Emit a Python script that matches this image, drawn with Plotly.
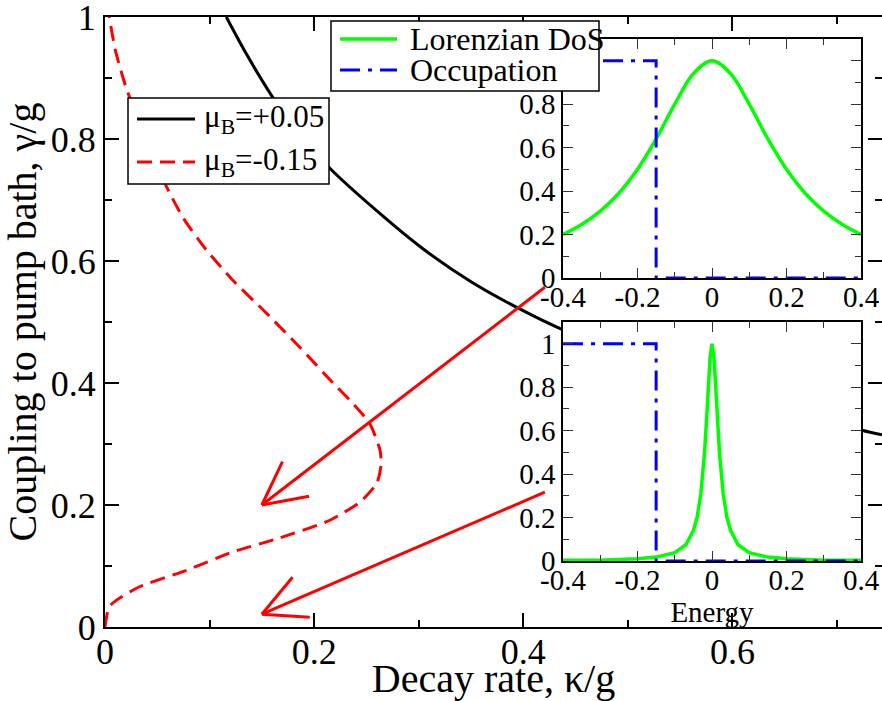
import math
import plotly.graph_objects as go

# ---------------- data ----------------
# main panel: mu_B = +0.05 (black solid)
kappa_plus = [0.116, 0.135, 0.159, 0.185, 0.215, 0.26, 0.304, 0.35, 0.397, 0.438, 0.5, 0.6, 0.723, 0.743]
gamma_plus = [1.0, 0.94, 0.872, 0.81, 0.752, 0.682, 0.62, 0.566, 0.521, 0.487, 0.445, 0.39, 0.323, 0.315]

# main panel: mu_B = -0.15 (red dashed)
kappa_minus = [0.0, 0.001, 0.004, 0.011, 0.033, 0.078, 0.122, 0.167, 0.215, 0.244, 0.26, 0.264,
               0.263, 0.253, 0.234, 0.218, 0.186, 0.154, 0.122, 0.097, 0.075, 0.059, 0.044,
               0.03, 0.02, 0.01, 0.004]
gamma_minus = [0.0, 0.012, 0.033, 0.044, 0.066, 0.093, 0.123, 0.146, 0.175, 0.205, 0.236, 0.266,
               0.29, 0.334, 0.372, 0.4, 0.459, 0.515, 0.569, 0.618, 0.67, 0.721, 0.78,
               0.84, 0.885, 0.945, 1.0]

# insets: Lorentzian density of states
energy_wide = [-0.4, -0.35, -0.3, -0.25, -0.2, -0.15, -0.1, -0.05, 0.0, 0.05, 0.1, 0.15, 0.2, 0.25, 0.3, 0.35, 0.4]
dos_wide = [0.2, 0.246, 0.308, 0.39, 0.5, 0.64, 0.8, 0.94, 1.0, 0.94, 0.8, 0.64, 0.5, 0.39, 0.308, 0.246, 0.2]

energy_narrow = [-0.4, -0.3, -0.2, -0.15, -0.1, -0.07, -0.05, -0.04, -0.03, -0.02, -0.015, -0.01, -0.005, 0.0,
                 0.005, 0.01, 0.015, 0.02, 0.03, 0.04, 0.05, 0.07, 0.1, 0.15, 0.2, 0.3, 0.4]
dos_narrow = [0.003, 0.004, 0.01, 0.018, 0.038, 0.075, 0.14, 0.2, 0.31, 0.5, 0.64, 0.8, 0.94, 1.0,
              0.94, 0.8, 0.64, 0.5, 0.31, 0.2, 0.14, 0.075, 0.038, 0.018, 0.01, 0.004, 0.003]

# insets: occupation (step at mu_B = -0.15)
occ_energy = [-0.4, -0.15, -0.15, 0.4]
occ_value = [1.0, 1.0, 0.0, 0.0]

# arrows (main-panel data coordinates)
arrow_tail_x = [0.4206, 0.4206]
arrow_tail_y = [0.557, 0.221]
arrow_tip_x = [0.15, 0.15]
arrow_tip_y = [0.2, 0.021]

# legend texts
main_names = ["μ<sub>B</sub>=+0.05", "μ<sub>B</sub>=-0.15"]
inset_names = ["Lorenzian DoS", "Occupation"]

# tick labels
main_x_ticks = [0, 0.2, 0.4, 0.6]
main_x_labels = ["0", "0.2", "0.4", "0.6"]
main_y_ticks = [0, 0.2, 0.4, 0.6, 0.8, 1.0]
main_y_labels = ["0", "0.2", "0.4", "0.6", "0.8", "1"]
inset_x_ticks = [-0.4, -0.2, 0, 0.2, 0.4]
inset_x_labels = ["-0.4", "-0.2", "0", "0.2", "0.4"]
inset_y_ticks = [0, 0.2, 0.4, 0.6, 0.8, 1.0]
inset_y_labels = ["0", "0.2", "0.4", "0.6", "0.8", "1"]

# ---------------- layout geometry ----------------
W, H = 882, 701
ML, MR, MT, MB = 105, 0, 17, 74
X_RANGE = [0, 0.743]
Y_RANGE = [0, 1.0]
INSET_X_RANGE = [-0.4, 0.4]
INSET_Y_RANGE = [0, 1.1]
FONT = "Liberation Serif"
GREEN = "#00ff00"
BLUE = "#0000ff"
DASHDOT = "20px,8px,4px,8px"
REDDASH = "15px,8px"

plot_w = W - ML - MR
plot_h = H - MT - MB
px_per_x = plot_w / (X_RANGE[1] - X_RANGE[0])
px_per_y = plot_h / (Y_RANGE[1] - Y_RANGE[0])


def paper_x(px):
    return (px - ML) / plot_w


def paper_y(py):
    return (H - MB - py) / plot_h


fig = go.Figure()

# main curves
fig.add_trace(go.Scatter(x=kappa_plus, y=gamma_plus, mode="lines", name=main_names[0],
                         line=dict(color="black", width=3, shape="spline", smoothing=0.8),
                         xaxis="x", yaxis="y", showlegend=False))
fig.add_trace(go.Scatter(x=kappa_minus, y=gamma_minus, mode="lines", name=main_names[1],
                         line=dict(color="red", width=3, dash=REDDASH, shape="spline", smoothing=0.6),
                         xaxis="x", yaxis="y", showlegend=False))

# arrows: shaft + open V head computed in pixel space
HEAD_LEN = 48.0
HEAD_ANG = math.radians(27)
ax_list, ay_list = [], []
for tx, ty, hx, hy in zip(arrow_tail_x, arrow_tail_y, arrow_tip_x, arrow_tip_y):
    ax_list += [tx, hx, None]
    ay_list += [ty, hy, None]
    bx = (tx - hx) * px_per_x
    by = -(ty - hy) * px_per_y
    n = math.hypot(bx, by)
    bx, by = bx / n, by / n
    for s in (1, -1):
        c, sn = math.cos(s * HEAD_ANG), math.sin(s * HEAD_ANG)
        rx = bx * c - by * sn
        ry = bx * sn + by * c
        ax_list += [hx, hx + rx * HEAD_LEN / px_per_x, None]
        ay_list += [hy, hy - ry * HEAD_LEN / px_per_y, None]
fig.add_trace(go.Scatter(x=ax_list, y=ay_list, mode="lines", line=dict(color="red", width=3),
                         showlegend=False, hoverinfo="skip", xaxis="x", yaxis="y"))

# insets
fig.add_trace(go.Scatter(x=energy_wide, y=dos_wide, mode="lines", name=inset_names[0],
                         line=dict(color=GREEN, width=3.5, shape="spline", smoothing=1.0),
                         xaxis="x2", yaxis="y2", showlegend=False))
fig.add_trace(go.Scatter(x=occ_energy, y=occ_value, mode="lines", name=inset_names[1],
                         line=dict(color=BLUE, width=3, dash=DASHDOT),
                         xaxis="x2", yaxis="y2", showlegend=False))
fig.add_trace(go.Scatter(x=energy_narrow, y=dos_narrow, mode="lines", name=inset_names[0],
                         line=dict(color=GREEN, width=3.5), showlegend=False,
                         xaxis="x3", yaxis="y3"))
fig.add_trace(go.Scatter(x=occ_energy, y=occ_value, mode="lines", name=inset_names[1],
                         line=dict(color=BLUE, width=3, dash=DASHDOT), showlegend=False,
                         xaxis="x3", yaxis="y3"))


def main_axis(rng, tv, tt, title, tsize, lstand, tstand):
    return dict(range=rng, tickvals=tv, ticktext=tt, showline=True, linecolor="black", linewidth=2,
                mirror="allticks", ticks="inside", ticklen=14, tickwidth=1.5, tickcolor="black",
                minor=dict(dtick=0.1, tick0=0, ticks="inside", ticklen=7, tickwidth=1.5, tickcolor="black"),
                showgrid=False, zeroline=False, automargin=False, ticklabeloverflow="allow",
                ticklabelstandoff=lstand,
                tickfont=dict(family=FONT, size=36, color="black"),
                title=dict(text=title, font=dict(family=FONT, size=tsize, color="black"), standoff=tstand))


def inset_axis(rng, tv, tt, domain, anchor, lstand=0, title=None):
    d = dict(range=rng, tickvals=tv, ticktext=tt, domain=domain, anchor=anchor,
             showline=True, linecolor="black", linewidth=1.5, mirror="allticks",
             ticks="inside", ticklen=10, tickwidth=1.2, tickcolor="#333",
             minor=dict(dtick=0.1, tick0=0, ticks="inside", ticklen=6, tickwidth=1.2, tickcolor="#333"),
             showgrid=False, zeroline=False, automargin=False, ticklabeloverflow="allow",
             ticklabelstandoff=lstand,
             tickfont=dict(family=FONT, size=29, color="black"))
    if title:
        d["title"] = dict(text=title, font=dict(family=FONT, size=29, color="black"), standoff=0)
    return d


ix = [paper_x(563), paper_x(861)]
top_dom = [paper_y(278), paper_y(39)]
bot_dom = [paper_y(561), paper_y(322)]

# hand-drawn legend boxes (tight line spacing as in the original)
legend_boxes = [
    dict(x0=128, x1=329, y0=98, y1=184, sx0=137, sx1=195, ty=[119, 162], tx=202,
         names=main_names, colors=["black", "red"], widths=[3, 3], dashes=["solid", REDDASH], size=31),
    dict(x0=331, x1=599, y0=21, y1=91, sx0=340, sx1=397, ty=[39, 70], tx=408,
         names=inset_names, colors=[GREEN, BLUE], widths=[3.5, 3], dashes=["solid", DASHDOT], size=32),
]
shapes, annotations = [], []
for lb in legend_boxes:
    shapes.append(dict(type="rect", xref="paper", yref="paper", layer="above",
                       x0=paper_x(lb["x0"]), x1=paper_x(lb["x1"]),
                       y0=paper_y(lb["y1"]), y1=paper_y(lb["y0"]),
                       fillcolor="white", line=dict(color="black", width=1.5)))
    for i in range(2):
        shapes.append(dict(type="line", xref="paper", yref="paper", layer="above",
                           x0=paper_x(lb["sx0"]), x1=paper_x(lb["sx1"]),
                           y0=paper_y(lb["ty"][i]), y1=paper_y(lb["ty"][i]),
                           line=dict(color=lb["colors"][i], width=lb["widths"][i], dash=lb["dashes"][i])))
        annotations.append(dict(text=lb["names"][i], xref="paper", yref="paper",
                                x=paper_x(lb["tx"]), y=paper_y(lb["ty"][i]),
                                xanchor="left", yanchor="middle", showarrow=False,
                                font=dict(family=FONT, size=lb["size"], color="black")))

fig.update_layout(
    template="none",
    width=W, height=H,
    margin=dict(l=ML, r=MR, t=MT, b=MB, pad=0, autoexpand=False),
    paper_bgcolor="white", plot_bgcolor="white",
    font=dict(family=FONT, color="black"),
    xaxis=main_axis(X_RANGE, main_x_ticks, main_x_labels, "Decay rate, κ/g", 40, -8, 10),
    yaxis=main_axis(Y_RANGE, main_y_ticks, main_y_labels, "Coupling to pump bath, γ/g", 40, 0, 4),
    xaxis2=inset_axis(INSET_X_RANGE, inset_x_ticks, inset_x_labels, ix, "y2", -8),
    yaxis2=inset_axis(INSET_Y_RANGE, inset_y_ticks, inset_y_labels, top_dom, "x2"),
    xaxis3=inset_axis(INSET_X_RANGE, inset_x_ticks, inset_x_labels, ix, "y3", -8, "Energy"),
    yaxis3=inset_axis(INSET_Y_RANGE, inset_y_ticks, inset_y_labels, bot_dom, "x3"),
    showlegend=False,
    shapes=shapes,
    annotations=annotations,
)

fig.write_html("out.html")
